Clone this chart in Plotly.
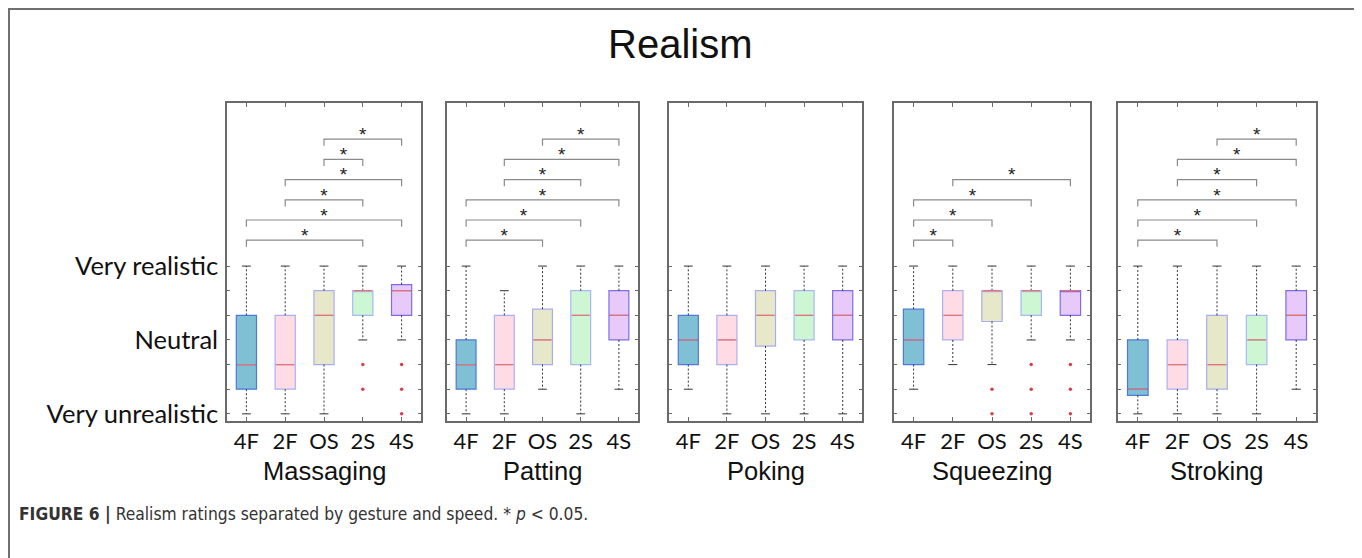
import plotly.graph_objects as go

# page body has an 8px margin: the figure starts at (8, 8) in the window
OFF = 8
YS = 0.986  # observed vertical scale between page and photograph
W, H = 1354, 560

categories = ["4F", "2F", "OS", "2S", "4S"]
gestures = ["Massaging", "Patting", "Poking", "Squeezing", "Stroking"]
y_tick_values = [1, 2, 3, 4, 5, 6, 7]
y_tick_labels = ["Very unrealistic", "", "", "Neutral", "", "", "Very realistic"]

# Massaging
massaging_lower = [1, 1, 1, 4, 4]
massaging_q1 = [2, 2, 3, 5, 5]
massaging_median = [3, 3, 5, 6, 6]
massaging_q3 = [5, 5, 6, 6, 6.25]
massaging_upper = [7, 7, 7, 7, 7]
massaging_outliers = [[], [], [], [3, 2], [3, 2, 1]]
massaging_sig = [("4F", "2S"), ("4F", "4S"), ("2F", "2S"), ("2F", "4S"), ("OS", "2S"), ("OS", "4S")]

# Patting
patting_lower = [1, 1, 2, 1, 2]
patting_q1 = [2, 2, 3, 3, 4]
patting_median = [3, 3, 4, 5, 5]
patting_q3 = [4, 5, 5.25, 6, 6]
patting_upper = [7, 6, 7, 7, 7]
patting_outliers = [[], [], [], [], []]
patting_sig = [("4F", "OS"), ("4F", "2S"), ("4F", "4S"), ("2F", "2S"), ("2F", "4S"), ("OS", "4S")]

# Poking
poking_lower = [2, 1, 1, 1, 1]
poking_q1 = [3, 3, 3.75, 4, 4]
poking_median = [4, 4, 5, 5, 5]
poking_q3 = [5, 5, 6, 6, 6]
poking_upper = [7, 7, 7, 7, 7]
poking_outliers = [[], [], [], [], []]
poking_sig = []

# Squeezing
squeezing_lower = [2, 3, 3, 4, 4]
squeezing_q1 = [3, 4, 4.75, 5, 5]
squeezing_median = [4, 5, 6, 6, 6]
squeezing_q3 = [5.25, 6, 6, 6, 6]
squeezing_upper = [7, 7, 7, 7, 7]
squeezing_outliers = [[], [], [2, 1], [3, 2, 1], [3, 2, 1]]
squeezing_sig = [("4F", "2F"), ("4F", "OS"), ("4F", "2S"), ("2F", "4S")]

# Stroking
stroking_lower = [1, 1, 1, 1, 2]
stroking_q1 = [1.75, 2, 2, 3, 4]
stroking_median = [2, 3, 3, 4, 5]
stroking_q3 = [4, 4, 5, 5, 6]
stroking_upper = [7, 7, 7, 7, 7]
stroking_outliers = [[], [], [], [], []]
stroking_sig = [("4F", "OS"), ("4F", "2S"), ("4F", "4S"), ("2F", "2S"), ("2F", "4S"), ("OS", "4S")]

panels = [
    (massaging_lower, massaging_q1, massaging_median, massaging_q3, massaging_upper, massaging_outliers, massaging_sig),
    (patting_lower, patting_q1, patting_median, patting_q3, patting_upper, patting_outliers, patting_sig),
    (poking_lower, poking_q1, poking_median, poking_q3, poking_upper, poking_outliers, poking_sig),
    (squeezing_lower, squeezing_q1, squeezing_median, squeezing_q3, squeezing_upper, squeezing_outliers, squeezing_sig),
    (stroking_lower, stroking_q1, stroking_median, stroking_q3, stroking_upper, stroking_outliers, stroking_sig),
]

# styling
fill_colors = ["#7fc0d5", "#ffdbe6", "#e7e8c9", "#cdf7d3", "#e7c9fa"]
edge_colors = ["#4f78dc", "#aab0f2", "#a8acee", "#a8b8f4", "#7b6ee6"]
median_color = "#e87272"
whisker_color = "#333333"
outlier_color = "#d8404e"
bracket_color = "#8a8a8a"
frame_color = "#6a6a6a"


def px_x(x):
    return (x - OFF) / W


def px_y(y):
    return 1 - (y / YS - OFF) / H


panel_px = [(227, 421), (447, 638), (669, 862), (894, 1090), (1118, 1316)]
top_px, bottom_px = 103, 420
y_range = [0.72, 13.61]
box_w = 0.52
cap_w = 0.23
sig_base, sig_step, sig_drop = 8.05, 0.82, 0.27

label_font = "Lato, 'Open Sans', sans-serif"
sans_font = "'Liberation Sans', Arial, sans-serif"

fig = go.Figure()
layout = {}

for p, (lo, q1, med, q3, up, outs, sig) in enumerate(panels):
    sfx = "" if p == 0 else str(p + 1)
    xa, ya = "x" + sfx, "y" + sfx
    xs = list(range(1, len(categories) + 1))

    # boxes
    for i, c in enumerate(categories):
        fig.add_trace(go.Box(
            x=[xs[i]], q1=[q1[i]], median=[med[i]], q3=[q3[i]],
            lowerfence=[q1[i]], upperfence=[q3[i]],
            width=box_w, whiskerwidth=0, fillcolor=fill_colors[i],
            line=dict(color=edge_colors[i], width=1.2),
            boxpoints=False, hoverinfo="skip", showlegend=False,
            xaxis=xa, yaxis=ya))

    # dashed whiskers
    wx, wy = [], []
    for i in range(len(categories)):
        if up[i] > q3[i]:
            wx += [xs[i], xs[i], None]
            wy += [q3[i], up[i], None]
        if lo[i] < q1[i]:
            wx += [xs[i], xs[i], None]
            wy += [q1[i], lo[i], None]
    fig.add_trace(go.Scatter(x=wx, y=wy, mode="lines",
                             line=dict(color=whisker_color, width=1, dash="2px,2px"),
                             hoverinfo="skip", showlegend=False, xaxis=xa, yaxis=ya))
    # caps
    cx, cy = [], []
    for i in range(len(categories)):
        for v in (up[i], lo[i]):
            cx += [xs[i] - cap_w / 2, xs[i] + cap_w / 2, None]
            cy += [v, v, None]
    fig.add_trace(go.Scatter(x=cx, y=cy, mode="lines",
                             line=dict(color=whisker_color, width=1),
                             hoverinfo="skip", showlegend=False, xaxis=xa, yaxis=ya))
    # medians
    mx, my = [], []
    for i in range(len(categories)):
        mx += [xs[i] - box_w / 2 + 0.03, xs[i] + box_w / 2 - 0.03, None]
        my += [med[i], med[i], None]
    fig.add_trace(go.Scatter(x=mx, y=my, mode="lines",
                             line=dict(color=median_color, width=1.3),
                             hoverinfo="skip", showlegend=False, xaxis=xa, yaxis=ya))
    # outliers
    ox, oy = [], []
    for i in range(len(categories)):
        for v in outs[i]:
            ox.append(xs[i])
            oy.append(v)
    if ox:
        fig.add_trace(go.Scatter(x=ox, y=oy, mode="markers",
                                 marker=dict(color=outlier_color, size=3.5),
                                 hoverinfo="skip", showlegend=False, xaxis=xa, yaxis=ya))
    # significance brackets
    bx, by, tx, ty = [], [], [], []
    for k, (a, b) in enumerate(sig):
        xa_ = categories.index(a) + 1
        xb_ = categories.index(b) + 1
        h = sig_base + k * sig_step
        bx += [xa_, xa_, xb_, xb_, None]
        by += [h - sig_drop, h, h, h - sig_drop, None]
        tx.append((xa_ + xb_) / 2)
        ty.append(h + 0.12)
    if bx:
        fig.add_trace(go.Scatter(x=bx, y=by, mode="lines",
                                 line=dict(color=bracket_color, width=1.2),
                                 hoverinfo="skip", showlegend=False, xaxis=xa, yaxis=ya))
        fig.add_trace(go.Scatter(x=tx, y=ty, mode="text", text=["*"] * len(tx),
                                 textfont=dict(family=sans_font, size=19, color="#222"),
                                 textposition="middle center",
                                 hoverinfo="skip", showlegend=False, xaxis=xa, yaxis=ya))

    l, r = panel_px[p]
    layout["xaxis" + sfx] = dict(
        domain=[px_x(l), px_x(r)], range=[0.5, 5.5], anchor=ya,
        tickvals=xs, ticktext=categories, ticks="inside", ticklen=4,
        tickcolor=frame_color, showline=True, linecolor=frame_color, linewidth=1.5,
        mirror="ticks", showgrid=False, zeroline=False,
        tickfont=dict(family=label_font, size=22, color="#111"), fixedrange=True)
    layout["yaxis" + sfx] = dict(
        domain=[px_y(bottom_px), px_y(top_px)], range=y_range, anchor=xa,
        tickvals=y_tick_values, ticktext=y_tick_labels if p == 0 else [""] * 7,
        showticklabels=(p == 0), ticks="inside", ticklen=3, tickcolor=frame_color,
        showline=True, linecolor=frame_color, linewidth=1.5, mirror="ticks",
        showgrid=False, zeroline=False, ticklabelstandoff=2,
        tickfont=dict(family=label_font, size=25.5, color="#111"), fixedrange=True)

annotations = []
for p, g in enumerate(gestures):
    l, r = panel_px[p]
    annotations.append(dict(x=px_x((l + r) / 2), y=px_y(470), xref="paper", yref="paper",
                            text=g, showarrow=False, xanchor="center", yanchor="middle",
                            font=dict(family=sans_font, size=25.5, color="#111")))
annotations.append(dict(x=px_x(680), y=px_y(44), xref="paper", yref="paper",
                        text="Realism", showarrow=False, xanchor="center", yanchor="middle",
                        font=dict(family=sans_font, size=40, color="#111")))
annotations.append(dict(x=px_x(17), y=px_y(513), xref="paper", yref="paper",
                        text="<b>FIGURE 6 |</b> Realism ratings separated by gesture and speed. * <i>p</i> &lt; 0.05.",
                        showarrow=False, xanchor="left", yanchor="middle",
                        font=dict(family="'Liberation Sans Narrow', 'DejaVu Sans Condensed', 'Liberation Sans', sans-serif",
                                  size=17.3, color="#333")))

shapes = [dict(type="path", xref="paper", yref="paper",
               path=f"M {px_x(9)},-0.05 L {px_x(9)},{px_y(9)} L {px_x(1355.5)},{px_y(9)} L {px_x(1355.5)},-0.05",
               line=dict(color="#707070", width=2))]

fig.update_layout(
    width=W, height=H, margin=dict(l=0, r=0, t=0, b=0),
    paper_bgcolor="white", plot_bgcolor="white",
    showlegend=False, annotations=annotations, shapes=shapes, **layout)

fig.write_html("out.html")
